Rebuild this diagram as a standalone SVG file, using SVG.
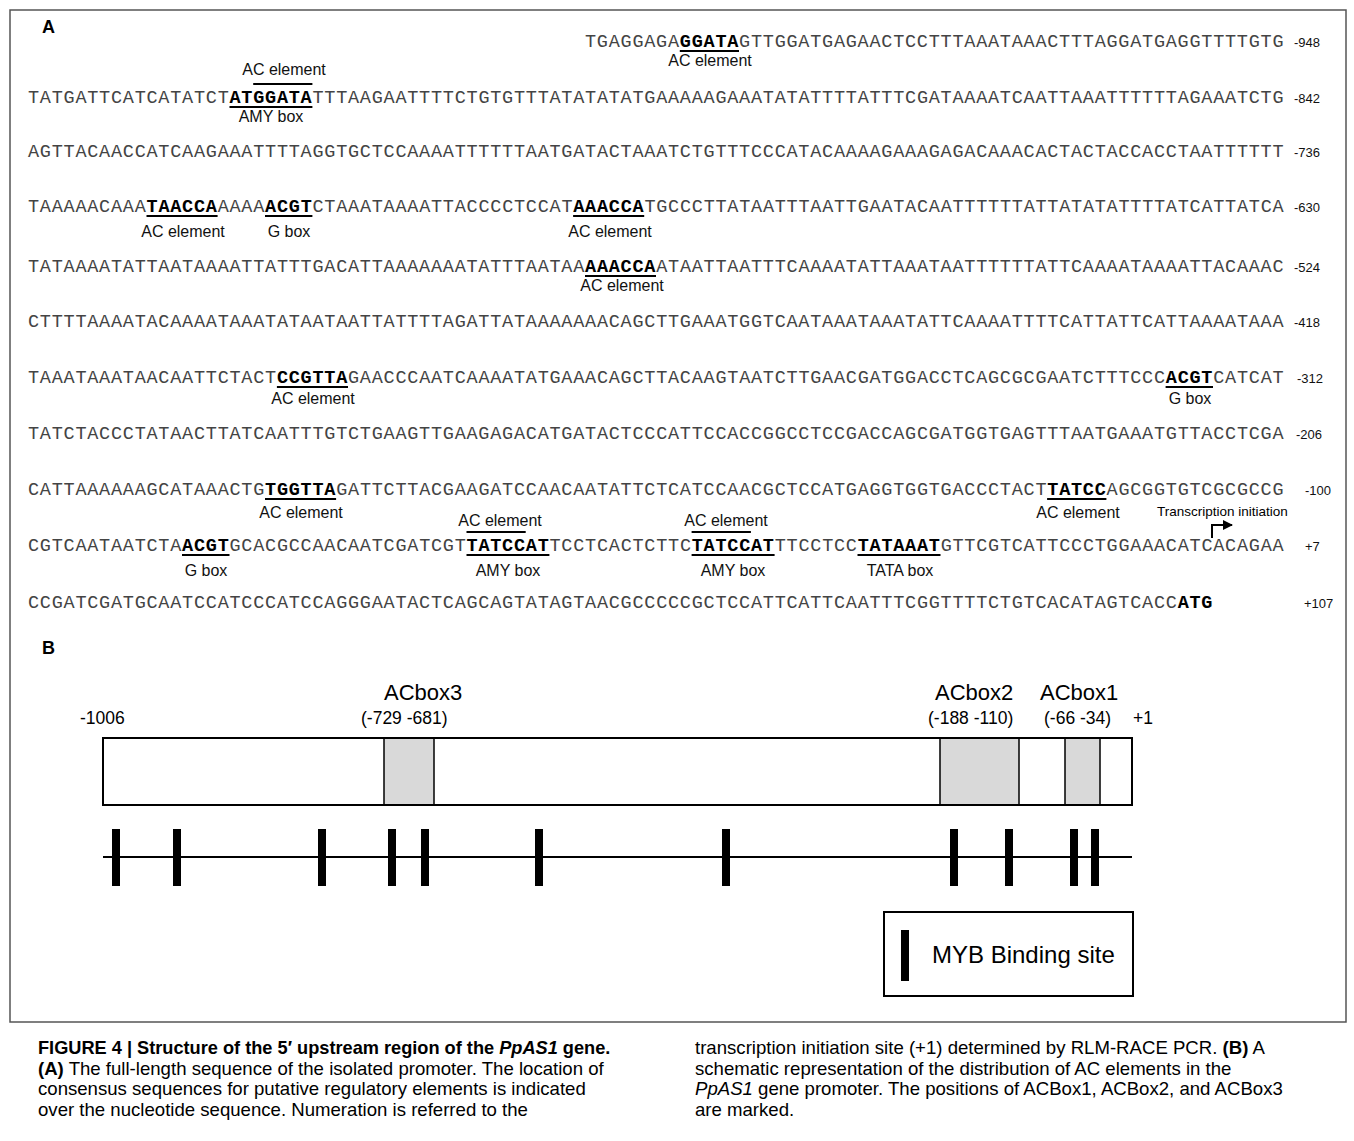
<svg xmlns="http://www.w3.org/2000/svg" width="1354" height="1141" viewBox="0 0 1354 1141">
<style>
.seq{font-family:"Liberation Mono",monospace;font-size:18.5px;letter-spacing:0.75px;fill:#444}
.b{font-weight:bold;fill:#000}
.lab{font-family:"Liberation Sans",Arial,sans-serif;font-size:16px;fill:#111;text-anchor:middle}
.num{font-family:"Liberation Sans",Arial,sans-serif;font-size:13px;fill:#111}
.ul{stroke:#000;stroke-width:2;fill:none}
.hd{font-family:"Liberation Sans",Arial,sans-serif;font-size:18px;font-weight:bold;fill:#000}
.bl{font-family:"Liberation Sans",Arial,sans-serif;fill:#000}
.cap{font-family:"Liberation Sans",Arial,sans-serif;font-size:18.6px;fill:#000}
.bar{fill:#000}
</style>
<defs>
<marker id="ah" viewBox="0 0 10 10" refX="9" refY="5" markerWidth="5" markerHeight="5" orient="auto"><path d="M0,0 L10,5 L0,10 z" fill="#000"/></marker>
</defs>
<rect x="10" y="10" width="1336" height="1012" fill="#fff" stroke="#555" stroke-width="1.5"/>

<g id="panelA">
<text class="hd" x="42" y="33">A</text>
<g id="seq-lines">
<text class="seq" x="585" y="47">TGAGGAGA<tspan class="b">GGATA</tspan>GTTGGATGAGAACTCCTTTAAATAAACTTTAGGATGAGGTTTTGTG</text>
<text class="seq" x="28" y="103">TATGATTCATCATATCT<tspan class="b">ATGGATA</tspan>TTTAAGAATTTTCTGTGTTTATATATATGAAAAAGAAATATATTTTATTTCGATAAAATCAATTAAATTTTTTAGAAATCTG</text>
<text class="seq" x="28" y="157">AGTTACAACCATCAAGAAATTTTAGGTGCTCCAAAATTTTTTAATGATACTAAATCTGTTTCCCATACAAAAGAAAGAGACAAACACTACTACCACCTAATTTTTT</text>
<text class="seq" x="28" y="212">TAAAAACAAA<tspan class="b">TAACCA</tspan>AAAA<tspan class="b">ACGT</tspan>CTAAATAAAATTACCCCTCCAT<tspan class="b">AAACCA</tspan>TGCCCTTATAATTTAATTGAATACAATTTTTTATTATATATTTTATCATTATCA</text>
<text class="seq" x="28" y="272">TATAAAATATTAATAAAATTATTTGACATTAAAAAAATATTTAATAA<tspan class="b">AAACCA</tspan>ATAATTAATTTCAAAATATTAAATAATTTTTTATTCAAAATAAAATTACAAAC</text>
<text class="seq" x="28" y="327">CTTTTAAAATACAAAATAAATATAATAATTATTTTAGATTATAAAAAAACAGCTTGAAATGGTCAATAAATAAATATTCAAAATTTTCATTATTCATTAAAATAAA</text>
<text class="seq" x="28" y="383">TAAATAAATAACAATTCTACT<tspan class="b">CCGTTA</tspan>GAACCCAATCAAAATATGAAACAGCTTACAAGTAATCTTGAACGATGGACCTCAGCGCGAATCTTTCCC<tspan class="b">ACGT</tspan>CATCAT</text>
<text class="seq" x="28" y="439">TATCTACCCTATAACTTATCAATTTGTCTGAAGTTGAAGAGACATGATACTCCCATTCCACCGGCCTCCGACCAGCGATGGTGAGTTTAATGAAATGTTACCTCGA</text>
<text class="seq" x="28" y="495">CATTAAAAAAGCATAAACTG<tspan class="b">TGGTTA</tspan>GATTCTTACGAAGATCCAACAATATTCTCATCCAACGCTCCATGAGGTGGTGACCCTACT<tspan class="b">TATCC</tspan>AGCGGTGTCGCGCCG</text>
<text class="seq" x="28" y="551">CGTCAATAATCTA<tspan class="b">ACGT</tspan>GCACGCCAACAATCGATCGT<tspan class="b">TATCCAT</tspan>TCCTCACTCTTC<tspan class="b">TATCCAT</tspan>TTCCTCC<tspan class="b">TATAAAT</tspan>GTTCGTCATTCCCTGGAAACATCACAGAA</text>
<text class="seq" x="28" y="608">CCGATCGATGCAATCCATCCCATCCAGGGAATACTCAGCAGTATAGTAACGCCCCCGCTCCATTCATTCAATTTCGGTTTTCTGTCACATAGTCACC<tspan class="b">ATG</tspan></text>
</g>
<g id="positions">
<text class="num" x="1294" y="47">-948</text>
<text class="num" x="1294" y="103">-842</text>
<text class="num" x="1294" y="157">-736</text>
<text class="num" x="1294" y="212">-630</text>
<text class="num" x="1294" y="272">-524</text>
<text class="num" x="1294" y="327">-418</text>
<text class="num" x="1297" y="383">-312</text>
<text class="num" x="1296" y="439">-206</text>
<text class="num" x="1305" y="495">-100</text>
<text class="num" x="1305" y="551">+7</text>
<text class="num" x="1304" y="608">+107</text>
</g>
<g id="element-marks">
<line class="ul" x1="679.8" y1="51" x2="739" y2="51"/>
<text class="lab" x="710" y="66">AC element</text>

<text class="lab" x="284" y="75">AC element</text>
<line class="ul" x1="253.2" y1="84" x2="312.4" y2="84"/>
<line class="ul" x1="229.5" y1="107" x2="312.4" y2="107"/>
<text class="lab" x="271" y="122">AMY box</text>

<line class="ul" x1="146.5" y1="216" x2="217.6" y2="216"/>
<text class="lab" x="183" y="237">AC element</text>
<line class="ul" x1="265" y1="216" x2="312.4" y2="216"/>
<text class="lab" x="289" y="237">G box</text>
<line class="ul" x1="573.1" y1="216" x2="644.2" y2="216"/>
<text class="lab" x="610" y="237">AC element</text>

<line class="ul" x1="585" y1="276" x2="656" y2="276"/>
<text class="lab" x="622" y="291">AC element</text>

<line class="ul" x1="276.9" y1="387" x2="348" y2="387"/>
<text class="lab" x="313" y="404">AC element</text>
<line class="ul" x1="1165.6" y1="387" x2="1213" y2="387"/>
<text class="lab" x="1190" y="404">G box</text>

<line class="ul" x1="265" y1="499" x2="336.1" y2="499"/>
<text class="lab" x="301" y="518">AC element</text>
<line class="ul" x1="1047.1" y1="499" x2="1106.4" y2="499"/>
<text class="lab" x="1078" y="518">AC element</text>
<text class="bl" x="1157" y="516" font-size="13.5">Transcription initiation</text>
<path d="M1212,538 V525 H1232" class="ul" stroke-width="1.3" marker-end="url(#ah)"/>

<line class="ul" x1="182" y1="555" x2="229.5" y2="555"/>
<text class="lab" x="206" y="576">G box</text>
<text class="lab" x="500" y="526">AC element</text>
<line class="ul" x1="466.5" y1="532" x2="525.7" y2="532"/>
<line class="ul" x1="466.5" y1="555" x2="549.4" y2="555"/>
<text class="lab" x="508" y="576">AMY box</text>
<text class="lab" x="726" y="526">AC element</text>
<line class="ul" x1="691.6" y1="532" x2="750.9" y2="532"/>
<line class="ul" x1="691.6" y1="555" x2="774.6" y2="555"/>
<text class="lab" x="733" y="576">AMY box</text>
<line class="ul" x1="857.5" y1="555" x2="940.5" y2="555"/>
<text class="lab" x="900" y="576">TATA box</text>
</g>
</g>

<g id="panelB">
<text class="hd" x="42" y="654">B</text>
<g id="box-labels" class="bl">
<text x="384" y="700" font-size="22">ACbox3</text>
<text x="361" y="724" font-size="17.5">(-729 -681)</text>
<text x="80" y="724" font-size="17.5">-1006</text>
<text x="935" y="700" font-size="22">ACbox2</text>
<text x="928" y="724" font-size="17.5">(-188  -110)</text>
<text x="1040" y="700" font-size="22">ACbox1</text>
<text x="1044" y="724" font-size="17.5">(-66  -34)</text>
<text x="1133" y="724" font-size="17.5">+1</text>
</g>
<g id="promoter">
<rect x="384" y="738" width="50" height="67" fill="#d9d9d9" stroke="#000" stroke-width="1.5"/>
<rect x="940" y="738" width="79" height="67" fill="#d9d9d9" stroke="#000" stroke-width="1.5"/>
<rect x="1065" y="738" width="35" height="67" fill="#d9d9d9" stroke="#000" stroke-width="1.5"/>
<rect x="103" y="738" width="1029" height="67" fill="none" stroke="#000" stroke-width="2"/>
</g>
<g id="myb-sites">
<line x1="103" y1="857" x2="1132" y2="857" stroke="#000" stroke-width="2"/>
<rect class="bar" x="112" y="829" width="8" height="57"/>
<rect class="bar" x="173" y="829" width="8" height="57"/>
<rect class="bar" x="318" y="829" width="8" height="57"/>
<rect class="bar" x="388" y="829" width="8" height="57"/>
<rect class="bar" x="421" y="829" width="8" height="57"/>
<rect class="bar" x="535" y="829" width="8" height="57"/>
<rect class="bar" x="722" y="829" width="8" height="57"/>
<rect class="bar" x="950" y="829" width="8" height="57"/>
<rect class="bar" x="1005" y="829" width="8" height="57"/>
<rect class="bar" x="1070" y="829" width="8" height="57"/>
<rect class="bar" x="1091" y="829" width="8" height="57"/>
</g>
<g id="legend">
<rect x="884" y="912" width="249" height="84" fill="none" stroke="#000" stroke-width="2"/>
<rect class="bar" x="901" y="930" width="8" height="51"/>
<text class="bl" x="932" y="963" font-size="24">MYB Binding site</text>
</g>
</g>

<g id="caption" class="cap">
<text x="38" y="1054" font-weight="bold" font-size="18.2">FIGURE 4 | Structure of the 5′ upstream region of the <tspan font-style="italic">PpAS1</tspan> gene.</text>
<text x="38" y="1075"><tspan font-weight="bold">(A)</tspan> The full-length sequence of the isolated promoter. The location of</text>
<text x="38" y="1095">consensus sequences for putative regulatory elements is indicated</text>
<text x="38" y="1116">over the nucleotide sequence. Numeration is referred to the</text>
<text x="695" y="1054">transcription initiation site (+1) determined by RLM-RACE PCR. <tspan font-weight="bold">(B)</tspan> A</text>
<text x="695" y="1075">schematic representation of the distribution of AC elements in the</text>
<text x="695" y="1095"><tspan font-style="italic">PpAS1</tspan> gene promoter. The positions of ACBox1, ACBox2, and ACBox3</text>
<text x="695" y="1116">are marked.</text>
</g>
</svg>
